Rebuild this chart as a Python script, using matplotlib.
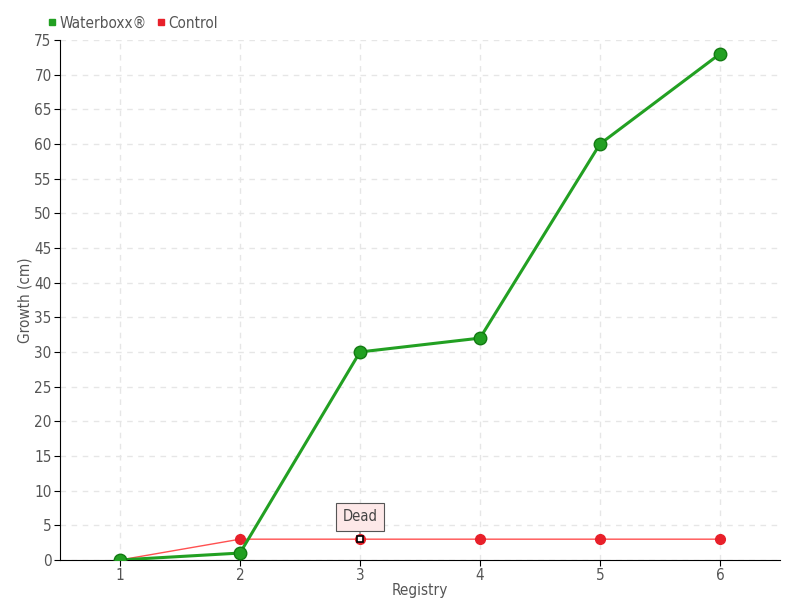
import matplotlib
matplotlib.use('Agg')
import matplotlib.pyplot as plt
from matplotlib.lines import Line2D

registry = [1, 2, 3, 4, 5, 6]
waterboxx = [0, 1, 30, 32, 60, 73]
control = [0, 3, 3, 3, 3, 3]
yticks = list(range(0, 80, 5))

plt.rcParams['font.family'] = ['DejaVu Sans']
plt.rcParams['font.stretch'] = 'condensed'

fig = plt.figure(figsize=(8, 6), dpi=100)
ax = fig.add_axes([0.075, 0.0667, 0.9, 0.8667])

ax.plot(registry, control, color='#ff5050', lw=1, marker='o', ms=7,
        mfc='#e8202a', mec='#e8202a', zorder=3)
ax.plot(registry, waterboxx, color='#22a022', lw=2.2, marker='o', ms=9,
        mfc='#22a022', mec='#127a12', zorder=4)
# dead point
ax.plot([registry[2]], [control[2]], marker='s', ms=5, mfc='white', mec='black',
        mew=1.2, zorder=5)
ax.annotate('Dead', xy=(registry[2], control[2]), xytext=(0, 16),
            textcoords='offset points', ha='center', va='center',
            fontsize=10.5, color='#444444',
            bbox=dict(boxstyle='square,pad=0.45', fc='#fde8e8', ec='#555555', lw=0.8),
            arrowprops=dict(arrowstyle='-', color='#555555', lw=0.8, shrinkA=0, shrinkB=4))

ax.set_xlim(0.5, 6.5)
ax.set_ylim(0, 75)
ax.set_xticks(registry)
ax.set_yticks(yticks)
ax.grid(True, color='#e6e6e6', ls=(0, (4, 4)), lw=1)
ax.set_axisbelow(True)
for s in ['top', 'right']:
    ax.spines[s].set_visible(False)
ax.tick_params(labelsize=11, labelcolor='#555555', length=4, color='black', pad=2)
ax.set_xlabel('Registry', fontsize=11, color='#555555', labelpad=0)
ax.set_ylabel('Growth (cm)', fontsize=11, color='#555555', labelpad=1)

handles = [Line2D([], [], ls='', marker='s', ms=4, color='#22a022'),
           Line2D([], [], ls='', marker='s', ms=4, color='#e8202a')]
fig.legend(handles, ['Waterboxx\u00ae', 'Control'], loc='upper left',
           bbox_to_anchor=(0.042, 0.997), ncol=2, frameon=False, fontsize=11,
           handlelength=0.6, handletextpad=0.2, columnspacing=0.6,
           labelcolor='#555555')

fig.savefig('out.png', dpi=100)
